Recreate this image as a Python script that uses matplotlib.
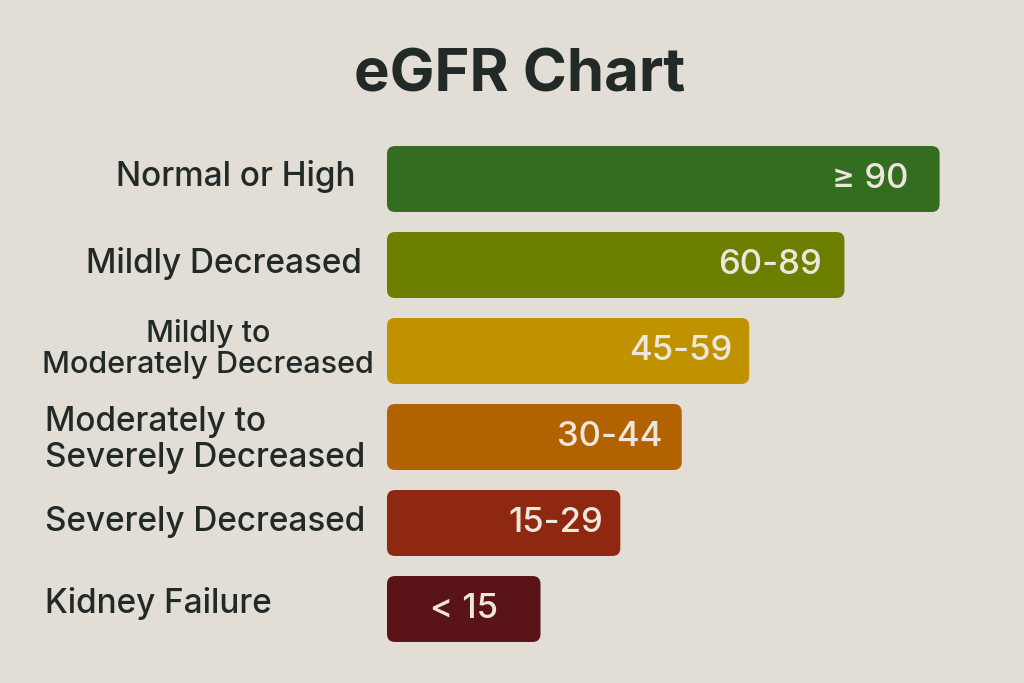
import numpy as np
from matplotlib import pyplot as plt
from matplotlib.patches import FancyBboxPatch

# 데이터
stages = ["Normal or High", "Mildly Decreased", "Mildly to\nModerately Decreased",
          "Moderately to\nSeverely Decreased", "Severely Decreased", "Kidney Failure"]
ranges = ["\u2265 90", "60-89", "45-59", "30-44", "15-29", "< 15"]
bar_len = [90, 74.5, 59, 48, 38, 25]
colors = ["#336d1f", "#6d7f00", "#c09200", "#b26200", "#8e2810", "#5a1418"]

bg = "#e2ddd5"
txt = "#222a27"
fam = ['Inter', 'DejaVu Sans']

W, H = 1024, 683
fig = plt.figure(figsize=(W / 100, H / 100), dpi=100, facecolor=bg)

# 축 : 픽셀 기준 배치
left_px, right_px, top_px, bot_px = 387, 1000, 136, 652
ax = fig.add_axes([left_px / W, 1 - bot_px / H, (right_px - left_px) / W, (bot_px - top_px) / H])
ax.set_facecolor(bg)
px_per_unit = 6.14
ax.set_xlim(0, (right_px - left_px) / px_per_unit)
ax.set_ylim(len(stages) - 0.5, -0.5)
ax.axis('off')

h = 0.767
r_x = 1.3
r_y = 0.093
val_pad = [5.0, 3.6, 2.8, 3.2, 2.8]
for i, (v, c, lab) in enumerate(zip(bar_len, colors, ranges)):
    box = FancyBboxPatch((0, i - h / 2), v, h,
                         boxstyle=f"round,pad=0,rounding_size={r_x}",
                         mutation_aspect=r_y / r_x, fc=c, ec='none')
    ax.add_patch(box)
    if i == len(stages) - 1:
        ax.text(v / 2, i, lab, ha='center', va='center', color='#ece6dc',
                fontsize=25, family=fam, fontweight='medium')
    else:
        ax.text(v - val_pad[i], i, lab, ha='right', va='center', color='#ece6dc',
                fontsize=25, family=fam, fontweight='medium')

# 왼쪽 라벨
label_x = [355, 362, 208, 45, 45, 45]
label_ha = ['right', 'right', 'center', 'left', 'left', 'left']
label_y = [177, 263, 349, 440, 522, 603]
label_fs = [24, 24, 22, 24, 24, 24]
for s, x, ha, y, fs in zip(stages, label_x, label_ha, label_y, label_fs):
    fig.text(x / W, 1 - y / H, s, ha=ha, va='center', color=txt,
             fontsize=fs, family=fam, fontweight='medium', linespacing=1.15,
             multialignment='center' if ha == 'center' else ha)

fig.text(520 / W, 1 - 76 / H, "eGFR Chart", ha='center', va='center',
         color=txt, fontsize=43, fontweight='bold', family=fam)

plt.savefig("out.png", dpi=100, facecolor=bg)
